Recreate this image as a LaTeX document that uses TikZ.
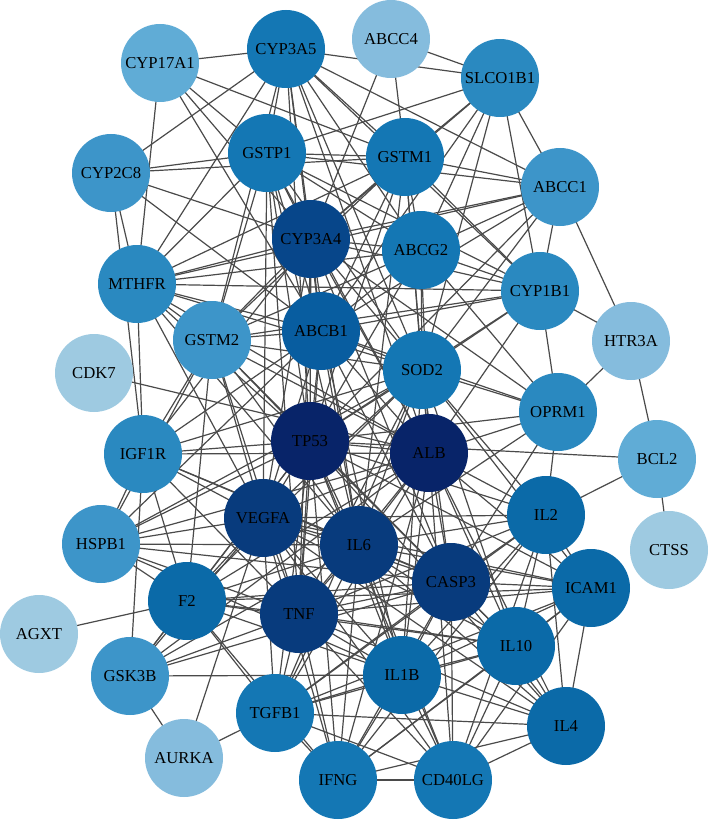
\documentclass[tikz,border=0pt]{standalone}
\usepackage{fontspec}
\setmainfont{Liberation Serif}
\pgfdeclarelayer{bg}\pgfsetlayers{bg,main}
\definecolor{ca}{HTML}{9ECAE1}
\definecolor{cb}{HTML}{85BCDD}
\definecolor{cc}{HTML}{60ACD6}
\definecolor{cd}{HTML}{3D95C9}
\definecolor{ce}{HTML}{2A89C0}
\definecolor{cf}{HTML}{1477B4}
\definecolor{cg}{HTML}{0B6AA8}
\definecolor{ch}{HTML}{085DA0}
\definecolor{ci}{HTML}{07468A}
\definecolor{cj}{HTML}{083B7D}
\definecolor{ck}{HTML}{082469}
\definecolor{edgecol}{HTML}{4A4A4A}
\begin{document}
\begin{tikzpicture}[x=0.75pt,y=-0.75pt,
  gene/.style={circle,minimum size=58.5pt,inner sep=0pt,font=\fontsize{12.5}{14}\selectfont,text=black},
  edge/.style={draw=edgecol,line width=0.9pt}]
\useasboundingbox (0,0) rectangle (709,820);
\node[gene,fill=cc] (CYP17A1) at (160,63) {CYP17A1};
\node[gene,fill=cf] (CYP3A5) at (286,49) {CYP3A5};
\node[gene,fill=cb] (ABCC4) at (391,39) {ABCC4};
\node[gene,fill=ce] (SLCO1B1) at (500,78) {SLCO1B1};
\node[gene,fill=cd] (CYP2C8) at (111,173) {CYP2C8};
\node[gene,fill=cf] (GSTP1) at (267,153) {GSTP1};
\node[gene,fill=cf] (GSTM1) at (405,157) {GSTM1};
\node[gene,fill=cd] (ABCC1) at (560,187) {ABCC1};
\node[gene,fill=ci] (CYP3A4) at (311,239) {CYP3A4};
\node[gene,fill=cf] (ABCG2) at (421,250) {ABCG2};
\node[gene,fill=ce] (MTHFR) at (137,284) {MTHFR};
\node[gene,fill=ce] (CYP1B1) at (540,291) {CYP1B1};
\node[gene,fill=cd] (GSTM2) at (212,340) {GSTM2};
\node[gene,fill=ch] (ABCB1) at (321,331) {ABCB1};
\node[gene,fill=cb] (HTR3A) at (631,341) {HTR3A};
\node[gene,fill=cf] (SOD2) at (422,370) {SOD2};
\node[gene,fill=ca] (CDK7) at (94,373) {CDK7};
\node[gene,fill=ce] (OPRM1) at (558,412) {OPRM1};
\node[gene,fill=ck] (TP53) at (310,441) {TP53};
\node[gene,fill=ck] (ALB) at (429,453) {ALB};
\node[gene,fill=ce] (IGF1R) at (143,454) {IGF1R};
\node[gene,fill=cc] (BCL2) at (657,459) {BCL2};
\node[gene,fill=cj] (VEGFA) at (263,518) {VEGFA};
\node[gene,fill=cg] (IL2) at (546,515) {IL2};
\node[gene,fill=cj] (IL6) at (359,545) {IL6};
\node[gene,fill=cd] (HSPB1) at (101,544) {HSPB1};
\node[gene,fill=ca] (CTSS) at (669,550) {CTSS};
\node[gene,fill=cj] (CASP3) at (451,582) {CASP3};
\node[gene,fill=cg] (ICAM1) at (591,588) {ICAM1};
\node[gene,fill=cg] (F2) at (187,601) {F2};
\node[gene,fill=cj] (TNF) at (299,614) {TNF};
\node[gene,fill=ca] (AGXT) at (39,634) {AGXT};
\node[gene,fill=cg] (IL10) at (516,646) {IL10};
\node[gene,fill=cd] (GSK3B) at (130,676) {GSK3B};
\node[gene,fill=cg] (IL1B) at (402,675) {IL1B};
\node[gene,fill=cf] (TGFB1) at (275,713) {TGFB1};
\node[gene,fill=cg] (IL4) at (566,726) {IL4};
\node[gene,fill=cb] (AURKA) at (184,758) {AURKA};
\node[gene,fill=cf] (IFNG) at (338,780) {IFNG};
\node[gene,fill=cf] (CD40LG) at (453,780) {CD40LG};
\begin{pgfonlayer}{bg}
\foreach \a/\b in {
CYP17A1/CYP3A5, CYP17A1/GSTP1, CYP17A1/GSTM1, CYP17A1/CYP3A4, CYP17A1/ABCB1, CYP17A1/MTHFR,
CYP3A5/CYP2C8, CYP3A5/SLCO1B1, CYP3A5/GSTP1, CYP3A5/GSTM1, CYP3A5/CYP3A4, CYP3A5/ABCB1, CYP3A5/ABCG2, CYP3A5/MTHFR, CYP3A5/ABCC1, CYP3A5/GSTM2, CYP3A5/TP53, CYP3A5/ALB, CYP3A5/CYP1B1, CYP3A5/SOD2,
ABCC4/SLCO1B1, ABCC4/GSTM1, ABCC4/CYP3A4,
GSTP1/GSTM1, GSTP1/CYP3A4, GSTP1/ABCB1, GSTP1/GSTM2, GSTP1/MTHFR, GSTP1/CYP2C8, GSTP1/ABCG2, GSTP1/SOD2, GSTP1/TP53, GSTP1/ALB, GSTP1/ABCC1, GSTP1/SLCO1B1, GSTP1/CYP1B1, GSTP1/IL6, GSTP1/TNF, GSTP1/VEGFA,
GSTM1/CYP3A4, GSTM1/ABCG2, GSTM1/ABCB1, GSTM1/GSTM2, GSTM1/SOD2, GSTM1/CYP1B1, GSTM1/ABCC1, GSTM1/SLCO1B1, GSTM1/MTHFR, GSTM1/TP53, GSTM1/ALB, GSTM1/CYP2C8, GSTM1/IL6,
CYP3A4/ABCB1, CYP3A4/ABCG2, CYP3A4/MTHFR, CYP3A4/CYP2C8, CYP3A4/GSTM2, CYP3A4/SOD2, CYP3A4/TP53, CYP3A4/ALB, CYP3A4/CYP1B1, CYP3A4/SLCO1B1, CYP3A4/ABCC1, CYP3A4/IL6, CYP3A4/VEGFA, CYP3A4/TNF, CYP3A4/OPRM1, CYP3A4/IGF1R, CYP3A4/CASP3,
ABCG2/ABCB1, ABCG2/ABCC1, ABCG2/SLCO1B1, ABCG2/CYP1B1, ABCG2/SOD2, ABCG2/TP53, ABCG2/ALB, ABCG2/MTHFR, ABCG2/GSTM2, ABCG2/OPRM1,
ABCB1/MTHFR, ABCB1/GSTM2, ABCB1/SOD2, ABCB1/TP53, ABCB1/ALB, ABCB1/CYP1B1, ABCB1/ABCC1, ABCB1/SLCO1B1, ABCB1/OPRM1, ABCB1/IL6, ABCB1/TNF, ABCB1/VEGFA, ABCB1/CASP3, ABCB1/IGF1R, ABCB1/HSPB1, ABCB1/IL1B, ABCB1/CYP2C8,
SLCO1B1/ABCC1, SLCO1B1/CYP1B1, SLCO1B1/SOD2,
ABCC1/CYP1B1, ABCC1/SOD2, ABCC1/TP53, ABCC1/HTR3A, ABCC1/MTHFR,
CYP1B1/MTHFR, CYP1B1/GSTM2, CYP1B1/SOD2, CYP1B1/TP53, CYP1B1/ALB, CYP1B1/HTR3A, CYP1B1/OPRM1,
MTHFR/GSTM2, MTHFR/IGF1R, MTHFR/TP53, MTHFR/ALB, MTHFR/SOD2, MTHFR/VEGFA, MTHFR/CYP2C8, MTHFR/IL6,
GSTM2/IGF1R, GSTM2/SOD2, GSTM2/TP53, GSTM2/ALB, GSTM2/F2, GSTM2/HSPB1, GSTM2/VEGFA, GSTM2/IL6, GSTM2/TNF, GSTM2/CASP3,
CYP2C8/IGF1R,
TP53/ALB, TP53/IL6, TP53/TNF, TP53/VEGFA, TP53/CASP3, TP53/IL1B, TP53/IL10, TP53/IL2, TP53/IL4, TP53/IFNG, TP53/TGFB1, TP53/F2, TP53/IGF1R, TP53/HSPB1, TP53/GSK3B, TP53/SOD2, TP53/ICAM1, TP53/OPRM1, TP53/CD40LG, TP53/BCL2,
ALB/IL6, ALB/TNF, ALB/VEGFA, ALB/CASP3, ALB/IL1B, ALB/IL10, ALB/IL2, ALB/IL4, ALB/IFNG, ALB/TGFB1, ALB/F2, ALB/IGF1R, ALB/HSPB1, ALB/SOD2, ALB/ICAM1, ALB/OPRM1, ALB/CD40LG, ALB/GSK3B, ALB/CDK7,
SOD2/IL6, SOD2/TNF, SOD2/VEGFA, SOD2/CASP3, SOD2/IL1B, SOD2/IL10, SOD2/IL2, SOD2/F2, SOD2/IGF1R, SOD2/HSPB1, SOD2/OPRM1, SOD2/ICAM1, SOD2/TGFB1,
VEGFA/IL6, VEGFA/TNF, VEGFA/CASP3, VEGFA/IL1B, VEGFA/IL10, VEGFA/IL2, VEGFA/IL4, VEGFA/IFNG, VEGFA/TGFB1, VEGFA/F2, VEGFA/IGF1R, VEGFA/HSPB1, VEGFA/GSK3B, VEGFA/ICAM1, VEGFA/CD40LG, VEGFA/AURKA,
IL6/TNF, IL6/CASP3, IL6/IL1B, IL6/IL10, IL6/IL2, IL6/IL4, IL6/IFNG, IL6/TGFB1, IL6/F2, IL6/IGF1R, IL6/HSPB1, IL6/GSK3B, IL6/ICAM1, IL6/CD40LG, IL6/OPRM1,
TNF/CASP3, TNF/IL1B, TNF/IL10, TNF/IL2, TNF/IL4, TNF/IFNG, TNF/TGFB1, TNF/F2, TNF/IGF1R, TNF/HSPB1, TNF/GSK3B, TNF/ICAM1, TNF/CD40LG,
CASP3/IL1B, CASP3/IL10, CASP3/IL2, CASP3/IL4, CASP3/IFNG, CASP3/TGFB1, CASP3/F2, CASP3/IGF1R, CASP3/HSPB1, CASP3/GSK3B, CASP3/ICAM1, CASP3/CD40LG, CASP3/OPRM1,
IL1B/IL10, IL1B/IL2, IL1B/IL4, IL1B/IFNG, IL1B/TGFB1, IL1B/F2, IL1B/ICAM1, IL1B/CD40LG, IL1B/HSPB1, IL1B/GSK3B,
IL10/IL2, IL10/IL4, IL10/IFNG, IL10/TGFB1, IL10/ICAM1, IL10/CD40LG, IL10/F2,
IL2/IL4, IL2/IFNG, IL2/ICAM1, IL2/CD40LG, IL2/OPRM1, IL2/BCL2, IL2/TGFB1,
IL4/IFNG, IL4/ICAM1, IL4/CD40LG, IL4/TGFB1,
ICAM1/IFNG, ICAM1/CD40LG, ICAM1/TGFB1, ICAM1/F2,
IFNG/CD40LG, IFNG/TGFB1, IFNG/F2, CD40LG/TGFB1,
TGFB1/F2, TGFB1/AURKA,
F2/HSPB1, F2/GSK3B, F2/AGXT, F2/IGF1R,
IGF1R/HSPB1, IGF1R/GSK3B,
GSK3B/AURKA, OPRM1/HTR3A, HTR3A/BCL2, BCL2/CTSS}
  \draw[edge] (\a.center) -- (\b.center);
\end{pgfonlayer}
\end{tikzpicture}
\end{document}
